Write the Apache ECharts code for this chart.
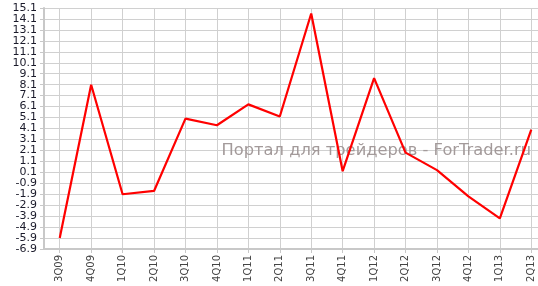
<!DOCTYPE html>
<html><head><meta charset="utf-8">
<script src="https://cdn.jsdelivr.net/npm/echarts@6/dist/echarts.min.js"></script>
<style>html,body{margin:0;padding:0;background:#fff}#c{width:538px;height:286px}</style>
</head><body><div id="c"></div>
<script>
const categories = ['3Q09','4Q09','1Q10','2Q10','3Q10','4Q10','1Q11','2Q11','3Q11','4Q11','1Q12','2Q12','3Q12','4Q12','1Q13','2Q13'];
const values = [-5.9, 8.1, -1.9, -1.6, 5.0, 4.4, 6.3, 5.2, 14.6, 0.2, 8.7, 1.9, 0.3, -2.1, -4.1, 4.0];
const yMin = -6.9, yMax = 15.1, yStep = 1;
const watermark = 'Портал для трейдеров - ForTrader.ru';

const chart = echarts.init(document.getElementById('c'), null, {renderer:'canvas'});
chart.setOption({
  animation:false,
  grid:{left:44,right:-9,top:8,bottom:37,containLabel:false,outerBoundsMode:'none'},
  xAxis:{type:'category',data:categories,boundaryGap:true,
    axisLine:{show:true,onZero:false,lineStyle:{color:'#c8c8c8',width:2}},
    axisTick:{show:true,alignWithLabel:true,length:4,lineStyle:{color:'#c8c8c8'}},
    splitLine:{show:true,alignWithLabel:true,lineStyle:{color:'#d0d0d0',width:1}},
    axisLabel:{rotate:90,interval:0,fontFamily:'DejaVu Sans',fontSize:10,color:'#444',margin:6}},
  yAxis:{type:'value',min:yMin,max:yMax,interval:yStep,
    axisLine:{show:true,lineStyle:{color:'#c8c8c8',width:2}},
    axisTick:{show:true,length:4,lineStyle:{color:'#c8c8c8'}},
    splitLine:{show:true,lineStyle:{color:'#d0d0d0',width:1}},
    axisLabel:{fontFamily:'DejaVu Sans',fontSize:11,color:'#1a1a2a',margin:7,
      formatter:v=>(Math.round(v*10)/10).toFixed(1)}},
  graphic:{z:1,elements:[{type:'text',right:7,top:143,silent:true,z:1,
    style:{text:watermark,fill:'#a39a9a',font:'16.3px "DejaVu Sans"'}}]},
  series:[{type:'line',data:values,showSymbol:false,symbol:'none',
    lineStyle:{color:'#ff0000',width:2.2},z:5}]
});
</script></body></html>
